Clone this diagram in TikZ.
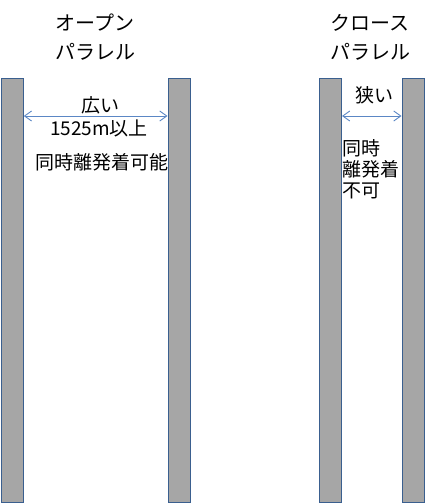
\documentclass[tikz,border=0pt]{standalone}
\usepackage{fontspec}
\setmainfont{Noto Sans CJK JP}
\usetikzlibrary{arrows.meta}
\definecolor{railfill}{HTML}{A6A6A6}
\definecolor{railedge}{HTML}{3A5F8F}
\definecolor{arrowc}{HTML}{5B87C5}
\tikzset{
  rail/.style={draw=railedge, fill=railfill, line width=1pt},
  widtharrow/.style={draw=arrowc, line width=0.9pt, {Straight Barb[length=7pt,width=10pt]}-{Straight Barb[length=7pt,width=10pt]}},
  title/.style={font=\fontsize{20}{29}\selectfont, align=center, inner sep=0pt},
  body/.style={font=\fontsize{19}{21}\selectfont, inner sep=0pt},
}
\begin{document}
\begin{tikzpicture}[x=1pt,y=-1pt]
\useasboundingbox (0,0) rectangle (425,503);
\node[rail, minimum width=22pt, minimum height=424pt, anchor=north west, inner sep=0pt] (r1) at (0.8,78) {};
\node[rail, minimum width=22pt, minimum height=424pt, anchor=north west, inner sep=0pt] (r2) at (167.5,78) {};
\node[rail, minimum width=22pt, minimum height=424pt, anchor=north west, inner sep=0pt] (r3) at (319,78) {};
\node[rail, minimum width=22pt, minimum height=424pt, anchor=north west, inner sep=0pt] (r4) at (401.5,78) {};
\coordinate (a1) at (r1.east |- 0,116);
\coordinate (b1) at (r2.west |- 0,116);
\coordinate (a2) at (r3.east |- 0,116);
\coordinate (b2) at (r4.west |- 0,116);
\draw[widtharrow] (a1) -- (b1);
\draw[widtharrow] (a2) -- (b2);
\node[title] (t1) at (95,37.5) {オープン\\パラレル};
\node[title] (t2) at (370,37.5) {クロース\\パラレル};
\node[body] (w1) at (100,105) {広い};
\node[body] (d1) at (99,128) {1525m以上};
\node[body] (s1) at (102,162) {同時離発着可能};
\node[body] (w2) at (374.5,95) {狭い};
\node[body, align=left, anchor=north west] (s2) at (342.5,139) {同時\\離発着\\不可};
\end{tikzpicture}
\end{document}
